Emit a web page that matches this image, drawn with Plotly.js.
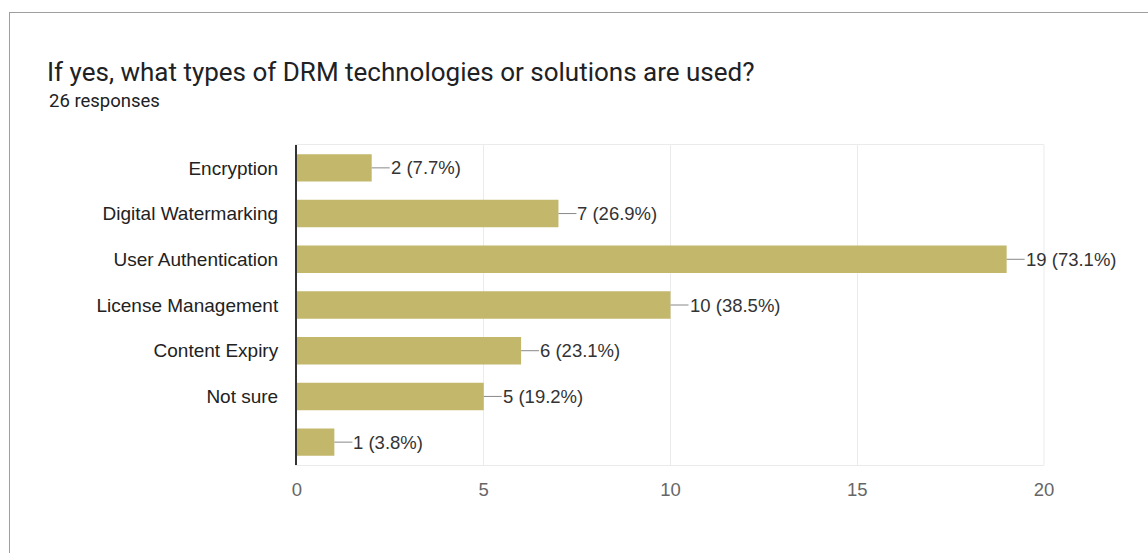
<!DOCTYPE html>
<html>
<head>
<meta charset="utf-8">
<script src="https://cdn.plot.ly/plotly-3.0.1.min.js"></script>
<style>
  html, body { margin: 0; padding: 0; background: #fff; }
  #frame { position: absolute; left: 9px; top: 12px; width: 1139px; height: 541px;
           border-top: 1px solid #9e9e9e; border-left: 1px solid #9e9e9e; }
  #chart { position: absolute; left: 0; top: 0; width: 1148px; height: 553px; }
</style>
</head>
<body>
<div id="frame"></div>
<div id="chart"></div>
<script>
const categories = ["Encryption", "Digital Watermarking", "User Authentication", "License Management", "Content Expiry", "Not sure", " "];
const counts = [2, 7, 19, 10, 6, 5, 1];
const percents = ["7.7%", "26.9%", "73.1%", "38.5%", "23.1%", "19.2%", "3.8%"];
const xTicks = [0, 5, 10, 15, 20];
const titleText = "If yes, what types of DRM technologies or solutions are used?";
const subtitleText = "26 responses";

const barColor = "#c3b76c";

const trace = {
  type: "bar",
  orientation: "h",
  x: counts,
  y: categories,
  marker: { color: barColor },
  width: 0.6,
  hoverinfo: "none"
};

const annotations = counts.map((v, i) => ({
  x: v, y: categories[i], xref: "x", yref: "y",
  text: v + " (" + percents[i] + ")",
  showarrow: true, arrowhead: 0, arrowwidth: 1, arrowcolor: "#888",
  ax: 18, ay: 0, xanchor: "left", yanchor: "middle",
  standoff: 0, startstandoff: 0, borderpad: 0,
  font: { family: "Liberation Sans, Arial, sans-serif", size: 18.5, color: "#333" }
}));

annotations.push({
  xref: "paper", yref: "paper",
  x: (47 - 297) / 747, y: (465 - 101) / 320,
  xanchor: "left", yanchor: "middle", showarrow: false,
  text: subtitleText,
  font: { family: "Roboto, sans-serif", size: 18.5, color: "#202124" }
});

const layout = {
  width: 1148, height: 553,
  paper_bgcolor: "rgba(0,0,0,0)",
  plot_bgcolor: "#fff",
  margin: { l: 297, r: 104, t: 145, b: 88 },
  showlegend: false,
  title: {
    text: titleText,
    xref: "container", yref: "container",
    x: 47 / 1148, xanchor: "left",
    y: 1 - 72 / 553, yanchor: "middle",
    font: { family: "Roboto, sans-serif", size: 26, color: "#202124" }
  },
  xaxis: {
    range: [0, 20],
    tickvals: xTicks,
    ticktext: xTicks.map(String),
    showgrid: true, gridcolor: "#ebebeb", gridwidth: 1,
    zeroline: false,
    showline: true, mirror: true, linecolor: "#ebebeb", linewidth: 1,
    ticks: "", ticklabelstandoff: 8,
    tickfont: { family: "Liberation Sans, Arial, sans-serif", size: 18.5, color: "#666" },
    fixedrange: true
  },
  yaxis: {
    type: "category",
    categoryorder: "array",
    categoryarray: categories,
    autorange: "reversed",
    showgrid: false, zeroline: false,
    showline: true, linecolor: "#333", linewidth: 2,
    ticks: "", ticklabelstandoff: 13,
    tickfont: { family: "Liberation Sans, Arial, sans-serif", size: 19, color: "#222" },
    fixedrange: true
  },
  shapes: [
    { type: "line", xref: "paper", yref: "paper", x0: 1, x1: 1, y0: 0, y1: 1,
      line: { color: "#ebebeb", width: 1 } }
  ],
  annotations: annotations
};

Plotly.newPlot("chart", [trace], layout, { displayModeBar: false, staticPlot: true });
</script>
</body>
</html>
